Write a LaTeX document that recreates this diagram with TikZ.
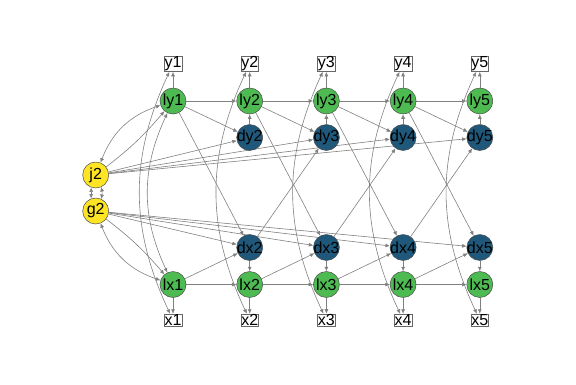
\documentclass[tikz,border=0pt]{standalone}
\usepackage{fontspec}
\setmainfont{Liberation Sans}
\usetikzlibrary{arrows.meta, backgrounds}

\definecolor{latgreen}{RGB}{77,187,82}
\definecolor{chgblue}{RGB}{31,88,122}
\definecolor{facyellow}{RGB}{253,228,36}
\definecolor{edgegray}{RGB}{128,128,128}

\newcommand{\nlab}[1]{\makebox[0pt]{#1}}

\tikzset{
  lat/.style={circle, draw=black!70, line width=0.5pt, minimum size=26pt, inner sep=0pt,
    font=\fontsize{16}{16}\selectfont},
  obs/.style={rectangle, draw=black!60, fill=white, line width=0.5pt, inner sep=0.4pt,
    font=\fontsize{16}{16}\selectfont},
  reg/.style={draw=edgegray, line width=0.6pt, -{Latex[length=4.5pt,width=4pt]}},
  cov/.style={draw=edgegray, line width=0.6pt,
    {Latex[length=4.5pt,width=4pt]}-{Latex[length=4.5pt,width=4pt]}},
}

\begin{document}
\begin{tikzpicture}[x=1pt, y=-1pt]
\useasboundingbox (0,0) rectangle (576,384);

% latent scores, change scores and indicators
\foreach \i in {1,...,5} {
  \pgfmathsetmacro{\cx}{173+76.7*(\i-1)}
  \node[obs] (y\i) at (\cx,64) {y\i};
  \node[lat, fill=latgreen] (ly\i) at (\cx,101) {\nlab{ly\i}};
  \node[lat, fill=latgreen] (lx\i) at (\cx,284.5) {\nlab{lx\i}};
  \node[obs] (x\i) at (\cx,320) {x\i};
}
\foreach \i in {2,...,5} {
  \pgfmathsetmacro{\cx}{173+76.7*(\i-1)}
  \node[lat, fill=chgblue] (dy\i) at (\cx,137.5) {\nlab{dy\i}};
  \node[lat, fill=chgblue] (dx\i) at (\cx,247.5) {\nlab{dx\i}};
}
\node[lat, fill=facyellow] (j2) at (95.7,175) {\nlab{j2}};
\node[lat, fill=facyellow] (g2) at (95.7,211) {\nlab{g2}};

\begin{scope}[on background layer]
% measurement
\foreach \i in {1,...,5} {
  \draw[reg] (ly\i) -- (y\i);
  \draw[reg] (lx\i) -- (x\i);
  \draw[cov] (y\i) to[bend right=25] (x\i);
}
% autoregression and changes
\foreach \i [count=\n from 2] in {1,...,4} {
  \draw[reg] (ly\i) -- (ly\n);
  \draw[reg] (lx\i) -- (lx\n);
  \draw[reg] (dy\n) -- (ly\n);
  \draw[reg] (dx\n) -- (lx\n);
  \draw[reg] (ly\i) -- (dy\n);
  \draw[reg] (ly\i) -- (dx\n);
  \draw[reg] (lx\i) -- (dx\n);
  \draw[reg] (j2) -- (dy\n);
  \draw[reg] (g2) -- (dx\n);
}
\foreach \i [count=\n from 3] in {2,...,4}
  \draw[reg] (dx\i) -- (dy\n);
% slopes and initial levels
\draw[cov] (j2) to[bend left=25] (ly1);
\draw[reg] (j2) to[bend right=6] (ly1);
\draw[cov] (g2) to[bend right=25] (lx1);
\draw[reg] (g2) to[bend left=6] (lx1);
\draw[cov] (ly1) to[bend right=25] (lx1);
\draw[cov] (j2.-110) -- (g2.110);
\draw[cov] (j2.-65) to[bend left=10] (g2.65);
\end{scope}
\end{tikzpicture}
\end{document}
